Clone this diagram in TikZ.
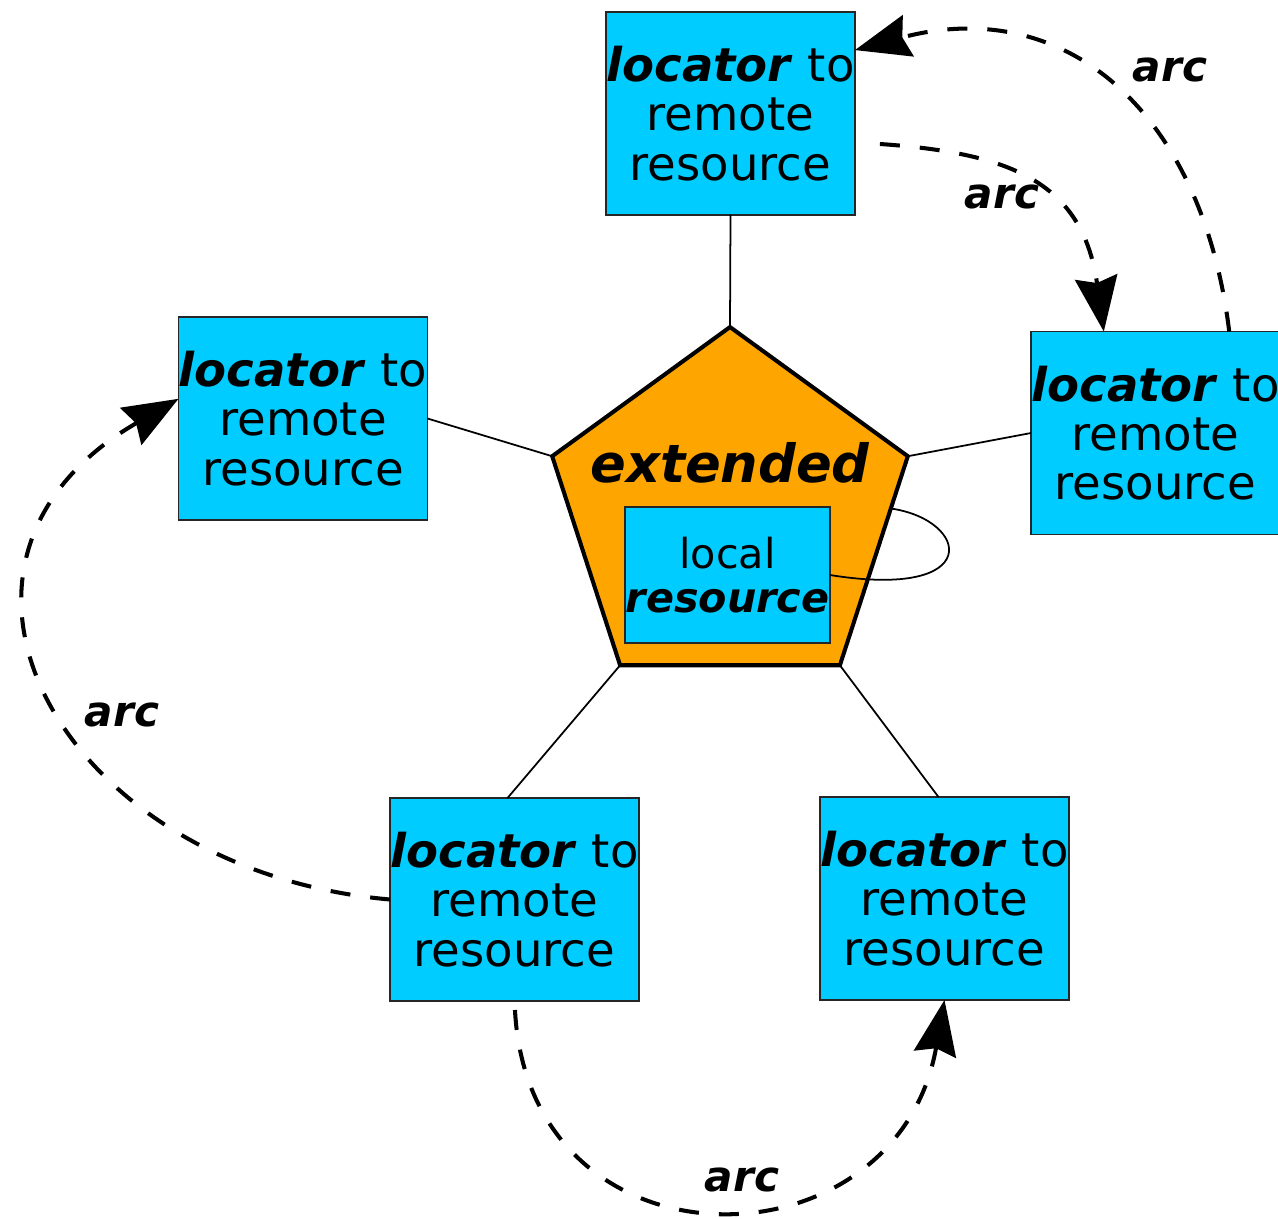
\documentclass[tikz,border=0pt]{standalone}
\usepackage{fontspec}
\setmainfont{DejaVu Sans}[ItalicFont={DejaVu Sans Oblique},BoldFont={DejaVu Sans Bold},BoldItalicFont={DejaVu Sans Bold Oblique}]
\usetikzlibrary{shapes.geometric,arrows.meta,calc}
\definecolor{boxblue}{RGB}{0,204,255}
\definecolor{extorange}{RGB}{255,165,0}
\newcommand{\locword}{\textbf{\textit{locator}}}
\tikzset{
  remote/.style={draw=black!85, line width=1.1pt, fill=boxblue, minimum width=4.98cm,
    minimum height=4.06cm, inner sep=0pt, outer sep=0pt, align=center,
    font=\fontsize{26.5}{28}\selectfont},
  link/.style={line width=1pt},
  flow/.style={line width=2.3pt, dash pattern=on 0.4cm off 0.4cm,
    -{Stealth[length=1.1cm,width=0.85cm,inset=0.12cm]}},
  arclabel/.style={font=\fontsize{24}{26}\selectfont\bfseries\itshape}
}
\begin{document}
\begin{tikzpicture}[x=0.02cm,y=0.02cm]
    \useasboundingbox (0,0) rectangle (1278,-1218);
    % the extended resource in the middle
    \node[regular polygon, regular polygon sides=5, minimum size=7.48cm, inner sep=0pt, outer sep=0pt,
        draw, line width=2.3pt, fill=extorange] (ext) at (730,-514) {};
    \node[font=\fontsize{30}{32}\selectfont\bfseries\itshape] (exttext) at (730,-463) {extended};
    \node[remote, minimum width=4.1cm, minimum height=2.72cm, font=\fontsize{23.5}{25.5}\selectfont]
        (local) at (727.5,-575) {local\\\textbf{\textit{resource}}};
    % remote resources round it
    \node[remote] (rtop)   at (730.5,-113.5) {\locword{} to\\remote\\resource};
    \node[remote] (rleft)  at (303,-418.5)   {\locword{} to\\remote\\resource};
    \node[remote] (rright) at (1155.5,-433)  {\locword{} to\\remote\\resource};
    \node[remote] (rbl)    at (514.5,-899.5) {\locword{} to\\remote\\resource};
    \node[remote] (rbr)    at (944.5,-898.5) {\locword{} to\\remote\\resource};
    \draw[link] (rtop.south) -- (ext.corner 1);
    \draw[link] (rleft.east) -- (ext.corner 2);
    \draw[link] (rright.west) -- (ext.corner 5);
    \draw[link] ($(rbl.north)+(-7,0)$) -- (ext.corner 3);
    \draw[link] ($(rbr.north)+(-6,0)$) -- (ext.corner 4);
    \coordinate (loopend) at ($(ext.corner 5)!0.25!(ext.corner 4)$);
    \draw[link] (local.east) .. controls (985,-600) and (970,-520) .. (loopend);
    % arcs
    \draw[flow] (rright.54) to[out=97, in=15, looseness=1.2] (rtop.27);
    \draw[flow, shorten <=0.5cm] (rtop.-13) to[out=-4, in=98, looseness=1.25] (rright.117);
    \draw[flow] (rbl.west) to[out=175, in=210, looseness=1.55] (rleft.171);
    \draw[flow, shorten <=0.18cm] (rbl.south) to[out=-87, in=-100, looseness=1.65] (rbr.south);
    \node[arclabel] (la) at (1170,-70)  {arc};
    \node[arclabel] (lb) at (1002,-197) {arc};
    \node[arclabel] (lc) at (122,-715)  {arc};
    \node[arclabel] (ld) at (742,-1180) {arc};
\end{tikzpicture}
\end{document}
